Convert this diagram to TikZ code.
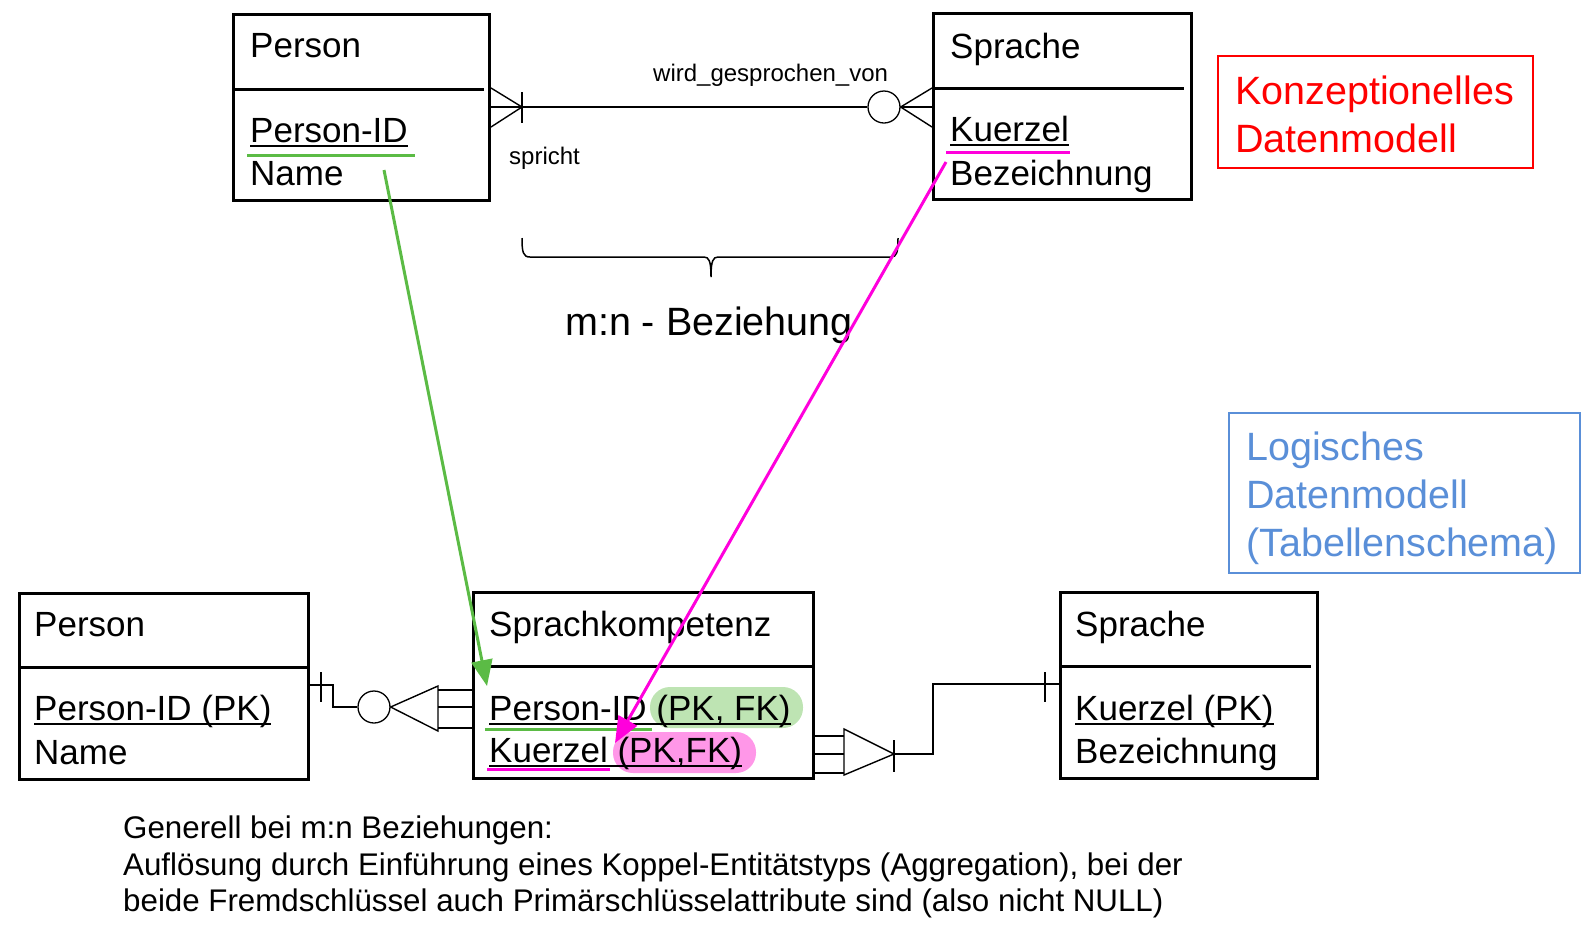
\documentclass[tikz,border=0pt]{standalone}
\usepackage{fontspec}
\setmainfont{Liberation Sans}
\usetikzlibrary{arrows.meta}
\definecolor{mgreen}{HTML}{5BBB45}
\definecolor{mmag}{HTML}{FF00DC}
\definecolor{pillg}{HTML}{BEE4B3}
\definecolor{pillm}{HTML}{FF97E8}
\definecolor{lblue}{HTML}{5A8FD8}
\newsavebox\myulbox
\newcommand{\myul}[1]{\sbox\myulbox{#1}\rlap{\rule[-4.5pt]{\wd\myulbox}{1.6pt}}\usebox\myulbox}
\begin{document}
\begin{tikzpicture}[x=1pt,y=-1pt,
  ent/.style={draw, line width=3pt, inner sep=0pt, minimum height=186pt, anchor=north west},
  txt/.style={anchor=base west, inner sep=0pt, font=\fontsize{35}{42}\selectfont},
  lbl/.style={anchor=base west, inner sep=0pt, font=\fontsize{24}{29}\selectfont},
  big/.style={anchor=base west, inner sep=0pt, font=\fontsize{39.5}{47}\selectfont},
  para/.style={anchor=base west, inner sep=0pt, font=\fontsize{31.3}{36.5}\selectfont},
  conn/.style={line width=1.4pt},
  circ/.style={draw, circle, line width=1.3pt, minimum size=32pt, inner sep=0pt},
  divl/.style={line width=3pt},
  hl/.style={line width=3pt},
  arr/.style={line width=3pt, -{Triangle[length=26pt,width=21pt]}}]
\useasboundingbox (0,0) rectangle (1587,930);

% ---------- conceptual model ----------
\node[ent, minimum width=256pt] (p1) at (232,13) {};
\draw[divl] (232,89) -- (484,89);
\node[txt] (p1t) at (250,57) {Person};
\draw[hl, mgreen] (247,155) -- (415,155);
\node[txt] (p1a) at (250,142) {\myul{Person-ID}};
\node[txt] (p1b) at (250,185) {Name};

\node[ent, minimum width=258pt] (s1) at (932,12) {};
\draw[divl] (932,88) -- (1184,88);
\node[txt] (s1t) at (950,58) {Sprache};
\draw[hl, mmag] (946,152) -- (1070,152);
\node[txt] (s1a) at (950,141) {\myul{Kuerzel}};
\node[txt] (s1b) at (950,185) {Bezeichnung};

% relationship
\node[circ] (c1) at (884,107) {};
\draw[conn] (p1.east |- 0,107) -- (c1.west);
\draw[conn] (p1.east |- 0,88) -- (522,107) -- (p1.east |- 0,127);
\draw[conn] (522,92) -- (522,123);
\draw[conn] (c1.east) -- (s1.west |- 0,107);
\draw[conn] (s1.west |- 0,88) -- (c1.east) -- (s1.west |- 0,127);
\node[lbl] (lw) at (653,81) {wird\_gesprochen\_von};
\node[lbl] (ls) at (509,164) {spricht};

% brace
\draw[line width=1.5pt] (522,238) .. controls (522,252) and (523,257) .. (530,257) -- (704,257)
  .. controls (709,257) and (711,261) .. (711,277)
  .. controls (711,261) and (713,257) .. (718,257) -- (891,257)
  .. controls (897,257) and (898,252) .. (898,238);
\node[big] (mn) at (565,335) {m:n - Beziehung};

% red label
\node[draw=red, line width=2pt, minimum width=315pt, minimum height=112pt, anchor=north west, inner sep=0pt] (kbox) at (1217,55) {};
\node[big, text=red] (k1) at (1235,104) {Konzeptionelles};
\node[big, text=red] (k2) at (1235,152) {Datenmodell};

% blue label
\node[draw=lblue, line width=2pt, minimum width=351pt, minimum height=160pt, anchor=north west, inner sep=0pt] (lbox) at (1228,412) {};
\node[big, text=lblue] (l1) at (1246,460) {Logisches};
\node[big, text=lblue] (l2) at (1246,508) {Datenmodell};
\node[big, text=lblue] (l3) at (1246,556) {(Tabellenschema)};

% ---------- logical model ----------
\node[ent, minimum width=289pt] (p2) at (18,592) {};
\draw[divl] (18,667) -- (307,667);
\node[txt] (p2t) at (34,636) {Person};
\node[txt] (p2a) at (34,720) {\myul{Person-ID (PK)}};
\node[txt] (p2b) at (34,764) {Name};

\node[ent, minimum width=340pt] (k) at (472,591) {};
\draw[divl] (472,666) -- (812,666);
\node[txt] (kt) at (489,636) {Sprachkompetenz};
\fill[pillg, rounded corners=20pt] (650,687) rectangle (803,728);
\fill[pillm, rounded corners=20pt] (613,732) rectangle (756,773);
\draw[hl, mgreen] (485,729) -- (652,729);
\draw[hl, mmag] (487,769) -- (610,769);
\node[txt] (ka) at (489,720) {\myul{Person-ID (PK, FK)}};
\node[txt] (kb) at (489,762) {\myul{Kuerzel (PK,FK)}};

\node[ent, minimum width=257pt] (s2) at (1059,591) {};
\draw[divl] (1059,666) -- (1311,666);
\node[txt] (s2t) at (1075,636) {Sprache};
\node[txt] (s2a) at (1075,720) {\myul{Kuerzel (PK)}};
\node[txt] (s2b) at (1075,763) {Bezeichnung};

% left connector
\node[circ] (c2) at (374,707) {};
\draw[conn] (p2.east |- 0,685) -- (333,685) |- (c2.west);
\draw[conn] (321,672) -- (321,702);
\draw[conn] (c2.east) -- (438,686) -- (438,731) -- cycle;
\draw[conn] (438,690) -- (k.west |- 0,690);
\draw[conn] (438,707) -- (k.west |- 0,707);
\draw[conn] (438,728) -- (k.west |- 0,728);

% right connector
\coordinate (t2) at (894,754);
\draw[conn] (k.east |- 0,736) -- (844,736);
\draw[conn] (k.east |- 0,754) -- (844,754);
\draw[conn] (k.east |- 0,773) -- (844,773);
\draw[conn] (844,729) -- (t2) -- (844,775) -- cycle;
\draw[conn] (894,740) -- (894,772);
\draw[conn] (t2) -| (933,684) -- (s2.west |- 0,684);
\draw[conn] (1045,672) -- (1045,702);

% mapping arrows
\coordinate (ga) at (384,170);
\coordinate (gb) at (487,686);
\coordinate (ma) at (946,162);
\coordinate (mb) at (615,743);
\draw[arr, mgreen] (ga) -- (gb);
\draw[arr, mmag] (ma) -- (mb);

% note
\node[para] (n1) at (123,838) {Generell bei m:n Beziehungen:};
\node[para] (n2) at (123,875) {Auflösung durch Einführung eines Koppel-Entitätstyps (Aggregation), bei der};
\node[para] (n3) at (123,911) {beide Fremdschlüssel auch Primärschlüsselattribute sind (also nicht NULL)};
\end{tikzpicture}
\end{document}
